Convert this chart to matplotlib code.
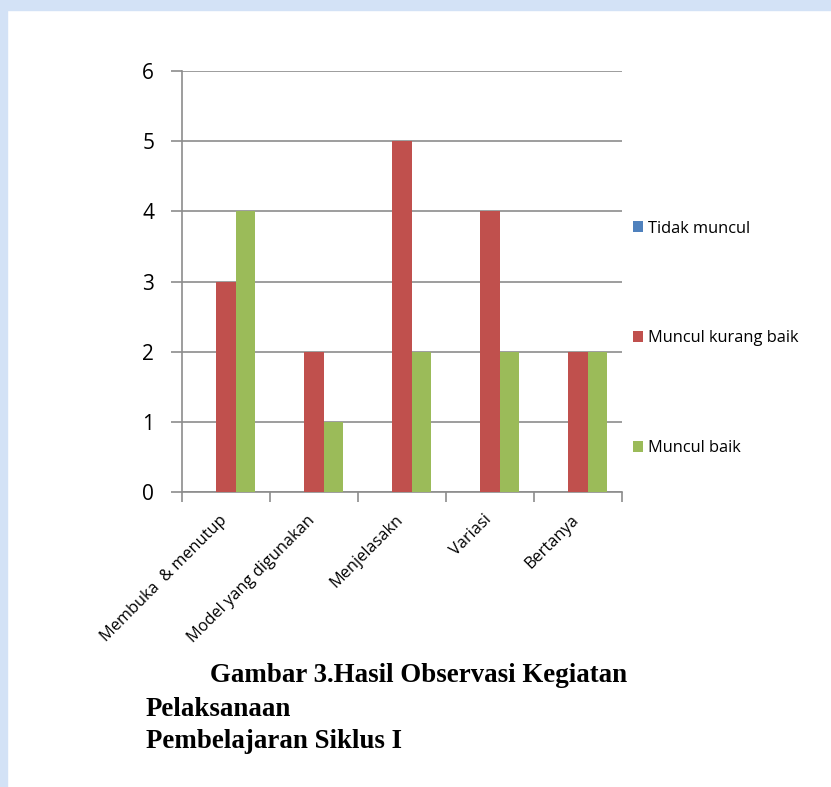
"""
Grouped bar chart: Hasil Observasi Kegiatan Pelaksanaan Pembelajaran Siklus I.
"""
import matplotlib

matplotlib.use("Agg")
import matplotlib.pyplot as plt
import matplotlib.transforms as mtransforms
import numpy as np
from matplotlib.patches import Rectangle

CATEGORIES = ["Membuka  & menutup", "Model yang digunakan", "Menjelasakn", "Variasi", "Bertanya"]
SERIES = ["Tidak muncul", "Muncul kurang baik", "Muncul baik"]
TIDAK_MUNCUL = [0, 0, 0, 0, 0]
KURANG_BAIK = [3, 2, 5, 4, 2]
BAIK = [4, 1, 2, 2, 2]
COLORS = ["#4F81BD", "#C0504D", "#9BBB59"]
CAPTION = ["Gambar 3.Hasil Observasi Kegiatan", "Pelaksanaan", "Pembelajaran Siklus I"]

fig = plt.figure(figsize=(8.31, 7.87), dpi=100)

# page background strips (document watermark edges)
fig.add_artist(Rectangle((0, 1 - 10 / 787), 1, 10 / 787, transform=fig.transFigure,
                         color="#d3e2f6", zorder=-5))
fig.add_artist(Rectangle((0, 0), 7 / 831, 1, transform=fig.transFigure,
                         color="#d3e2f6", zorder=-5))

ax = fig.add_axes([182 / 831, 1 - 492 / 787, 440 / 831, 421 / 787])

x = np.arange(len(CATEGORIES))
w = 1 / 4.5
for i, (vals, name, col) in enumerate(zip([TIDAK_MUNCUL, KURANG_BAIK, BAIK], SERIES, COLORS)):
    ax.bar(x + (i - 1) * w, vals, width=w, color=col, label=name, zorder=3)

grey = "#8c8c8c"
ax.set_xlim(-0.5, len(CATEGORIES) - 0.5)
ax.set_ylim(0, 6)
ax.set_yticks(range(7))
ax.yaxis.grid(True, color=grey, linewidth=1.2, zorder=0)
for s in ["top", "right"]:
    ax.spines[s].set_visible(False)
ax.spines["left"].set_color(grey)
ax.spines["bottom"].set_color(grey)
ax.spines["left"].set_linewidth(1.2)
ax.spines["bottom"].set_linewidth(1.2)

ax.set_xticks(np.arange(len(CATEGORIES) + 1) - 0.5)
ax.set_xticklabels([])
ax.tick_params(axis="x", which="major", length=7, color=grey, width=1.2)
ax.tick_params(axis="y", length=8, color=grey, width=1.2, pad=12, labelsize=15)
for t in ax.get_yticklabels():
    t.set_family("Open Sans")

# category labels, rotated, right end at the category centre
shift = mtransforms.ScaledTranslation(-7 / 100, -20 / 100, fig.dpi_scale_trans)
for xi, lab in zip(x, CATEGORIES):
    ax.text(xi, 0, lab, transform=ax.get_xaxis_transform() + shift, rotation=45,
            ha="right", va="top", rotation_mode="anchor", fontsize=11.8,
            family="Open Sans", clip_on=False)

fig.legend(loc="upper left", bbox_to_anchor=(626 / 831, 1 - 214 / 787), frameon=False,
           prop={"family": "Open Sans", "size": 11.8}, handlelength=0.65, handleheight=0.65,
           handletextpad=0.3, labelspacing=5.72, borderaxespad=0)

for txt, xp, yp in zip(CAPTION, [210, 146, 146], [675, 709, 741]):
    fig.text(xp / 831, 1 - yp / 787, txt, family="Liberation Serif", weight="bold",
             fontsize=19.4, va="center", ha="left")

fig.savefig("out.png", dpi=100)
